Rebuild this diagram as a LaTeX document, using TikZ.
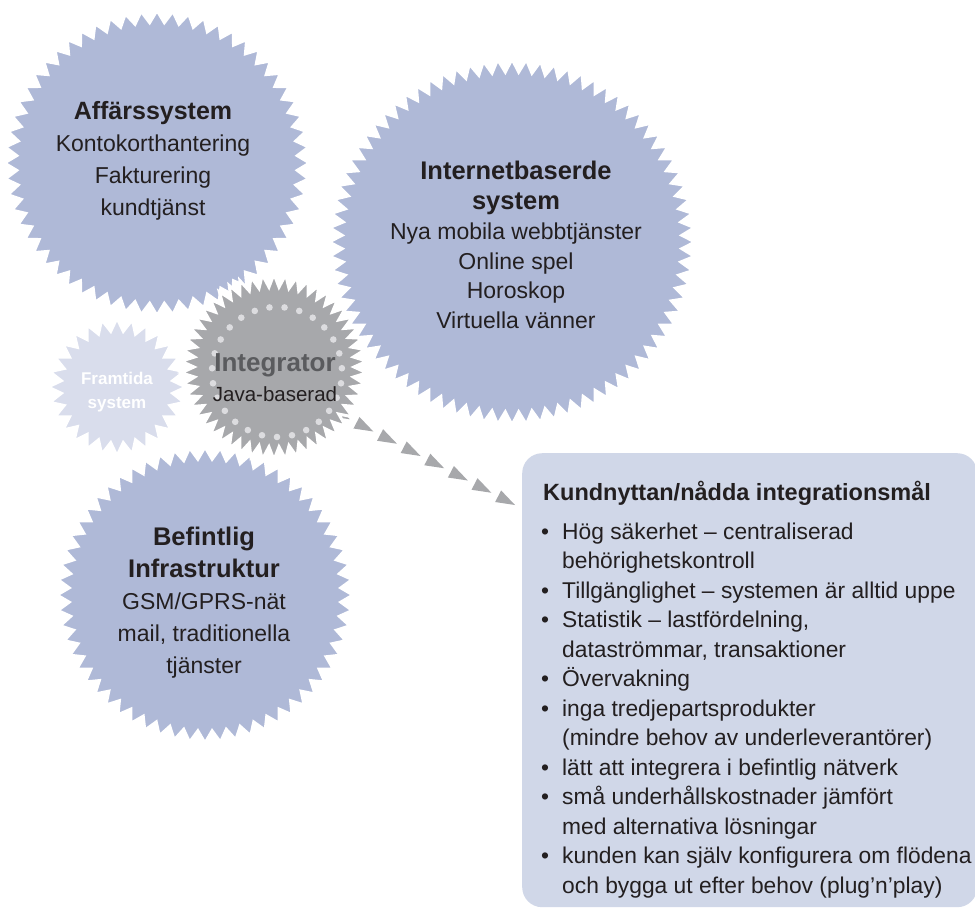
\documentclass[tikz,border=0pt]{standalone}
\usepackage{fontspec}
\setmainfont{Liberation Sans}
\usetikzlibrary{shapes.geometric,decorations.markings,calc}
\definecolor{burstblue}{HTML}{AFB9D7}
\definecolor{burstlight}{HTML}{D9DDEC}
\definecolor{burstgray}{HTML}{A7A8AB}
\definecolor{dotgray}{HTML}{DCDCDF}
\definecolor{boxfill}{HTML}{D0D7E8}
\definecolor{inkdark}{HTML}{231F20}
\definecolor{integink}{HTML}{5A5B5E}
\begin{document}
\begin{tikzpicture}[x=1pt,y=-1pt,
  burst/.style={star, draw=white, line width=3pt, inner sep=0pt, star point height=12pt},
  bursttext/.style={font=\fontsize{23}{31}\selectfont, text=inkdark, align=center, inner sep=0pt},
  listtext/.style={font=\fontsize{22.8}{29.5}\selectfont, text=inkdark, align=left, inner sep=0pt, anchor=base west},
  chainmark/.style={postaction={decorate}, decoration={markings,
    mark=between positions 9.5pt and 1 step 26.6pt with {\fill[burstgray] (-9.5pt,0pt) -- (9.5pt,-6.5pt) -- (9.5pt,6.5pt) -- cycle;}}}
]
\useasboundingbox (0,0) rectangle (975,908);
\fill[white] (0,0) rectangle (975,908);

% box
\node[fill=boxfill, rounded corners=20pt, minimum width=455pt, minimum height=454pt, anchor=north west, inner sep=0pt] (box) at (522,453) {};

% starbursts
\node[burst, fill=burstblue, star points=60, minimum size=305pt] (aff) at (157,163) {};
\node[burst, fill=burstblue, star points=80, star point height=13pt, minimum size=366pt] (inet) at (512,242) {};
\node[burst, fill=burstblue, star points=60, minimum size=296pt] (befi) at (205,595) {};

% chain connector
\coordinate (chainend) at ($(box.north west)+(-7,52)$);
\coordinate (chainstart) at ($(box.north west)+(-192,-44)$);
\path[chainmark] (chainend) -- (chainstart);

\node[burst, fill=burstlight, star points=28, star point height=13pt, minimum size=138pt] (fram) at (117,387) {};
\node[burst, fill=burstgray, star points=50, star point height=13pt, minimum size=186pt] (integ) at (274,367) {};
\foreach \i in {0,...,26} \fill[dotgray] ($(277,372)+(90+\i*360/27:65)$) circle (3.3pt);

% texts
\node[bursttext, font=\fontsize{23}{32}\selectfont] (afftext) at (153,161)
  {{\fontsize{25}{32}\selectfont\bfseries Affärssystem}\\Kontokorthantering\\Fakturering\\kundtjänst};
\node[bursttext, font=\fontsize{23}{29.8}\selectfont] (inettext) at (516,245)
  {{\fontsize{25.5}{29.8}\selectfont\bfseries Internetbaserde}\\{\fontsize{25.5}{29.8}\selectfont\bfseries system}\\Nya mobila webbtjänster\\Online spel\\Horoskop\\Virtuella vänner};
\node[bursttext, font=\fontsize{23}{32}\selectfont] (befitext) at (204,603)
  {{\fontsize{25.5}{32}\selectfont\bfseries Befintlig}\\{\fontsize{25.5}{32}\selectfont\bfseries Infrastruktur}\\GSM/GPRS-nät\\mail, traditionella\\tjänster};
\node[bursttext, font=\fontsize{17}{24}\selectfont\bfseries, text=white] (framtext) at (117,392) {Framtida\\system};
\node[bursttext, font=\fontsize{20.5}{30}\selectfont] (integtext) at (275,378)
  {{\fontsize{26}{30}\selectfont\bfseries\color{integink}Integrator}\\Java-baserad};

% box texts
\node[listtext, font=\fontsize{23.5}{29.3}\selectfont\bfseries] (boxtitle) at (543,500) {Kundnyttan/nådda integrationsmål};
\node[listtext] (boxlist) at (541,893) {%
\makebox[21pt][l]{•}Hög säkerhet – centraliserad\\
\hspace*{21pt}behörighetskontroll\\
\makebox[21pt][l]{•}Tillgänglighet – systemen är alltid uppe\\
\makebox[21pt][l]{•}Statistik – lastfördelning,\\
\hspace*{21pt}dataströmmar, transaktioner\\
\makebox[21pt][l]{•}Övervakning\\
\makebox[21pt][l]{•}inga tredjepartsprodukter\\
\hspace*{21pt}(mindre behov av underleverantörer)\\
\makebox[21pt][l]{•}lätt att integrera i befintlig nätverk\\
\makebox[21pt][l]{•}små underhållskostnader jämfört\\
\hspace*{21pt}med alternativa lösningar\\
\makebox[21pt][l]{•}kunden kan själv konfigurera om flödena\\
\hspace*{21pt}och bygga ut efter behov (plug’n’play)};
\end{tikzpicture}
\end{document}
